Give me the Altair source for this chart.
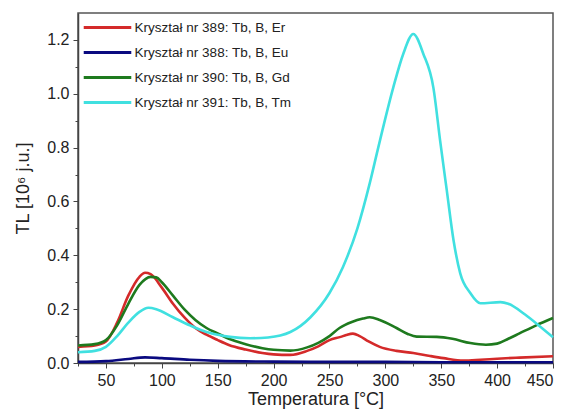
import altair as alt
import pandas as pd

series_names = [
    "Kryształ nr 389: Tb, B, Er",
    "Kryształ nr 388: Tb, B, Eu",
    "Kryształ nr 390: Tb, B, Gd",
    "Kryształ nr 391: Tb, B, Tm",
]
series_colors = ["#d42a2a", "#0a0a80", "#1e7a1e", "#40e0e0"]

t_389 = [25, 40, 50, 60, 70, 80, 85, 90, 100, 110, 120, 130, 140, 150, 160, 175, 190, 200, 215, 230, 240, 250, 260, 265, 271, 277, 285, 295, 310, 325, 340, 352, 370, 385, 400, 420, 450]
v_389 = [0.06, 0.065, 0.08, 0.15, 0.25, 0.32, 0.335, 0.33, 0.28, 0.22, 0.17, 0.13, 0.105, 0.085, 0.067, 0.05, 0.037, 0.032, 0.03, 0.045, 0.062, 0.085, 0.097, 0.104, 0.109, 0.1, 0.08, 0.06, 0.045, 0.037, 0.026, 0.018, 0.009, 0.012, 0.016, 0.02, 0.025]

t_388 = [25, 50, 70, 85, 100, 125, 150, 200, 250, 300, 350, 400, 450]
v_388 = [0.004, 0.007, 0.015, 0.021, 0.018, 0.012, 0.008, 0.005, 0.004, 0.004, 0.003, 0.003, 0.003]

t_390 = [25, 40, 50, 60, 70, 80, 90, 95, 100, 110, 120, 130, 140, 150, 160, 175, 190, 200, 215, 230, 240, 250, 259, 270, 280, 286, 295, 310, 320, 328, 346, 360, 376, 390, 400, 410, 420, 435, 450]
v_390 = [0.065, 0.07, 0.085, 0.14, 0.22, 0.29, 0.32, 0.318, 0.3, 0.25, 0.2, 0.16, 0.13, 0.11, 0.09, 0.07, 0.055, 0.049, 0.046, 0.058, 0.075, 0.1, 0.13, 0.152, 0.165, 0.17, 0.16, 0.13, 0.108, 0.098, 0.097, 0.09, 0.074, 0.068, 0.072, 0.09, 0.11, 0.14, 0.167]

t_391 = [25, 40, 50, 60, 70, 80, 88, 95, 110, 125, 140, 150, 161, 179, 195, 206, 215, 233, 250, 262, 275, 286, 293, 307, 316, 325, 334, 343, 349, 355, 361, 367, 376, 385, 403, 410, 425, 440, 450]
v_391 = [0.04, 0.045, 0.06, 0.1, 0.15, 0.19, 0.205, 0.2, 0.17, 0.14, 0.115, 0.105, 0.097, 0.092, 0.095, 0.102, 0.115, 0.17, 0.26, 0.356, 0.5, 0.667, 0.789, 1.022, 1.148, 1.222, 1.148, 1.022, 0.826, 0.64, 0.456, 0.333, 0.26, 0.222, 0.226, 0.22, 0.18, 0.13, 0.096]

rows = []
for name, ts, vs in [
    (series_names[0], t_389, v_389),
    (series_names[1], t_388, v_388),
    (series_names[2], t_390, v_390),
    (series_names[3], t_391, v_391),
]:
    for t, v in zip(ts, vs):
        rows.append({"series": name, "T": t, "TL": v})
df = pd.DataFrame(rows)

x_ticks = [50, 100, 150, 200, 250, 300, 350, 400, 450]
x_minor = [25, 75, 125, 175, 225, 275, 325, 375, 425]
y_ticks = [0.0, 0.2, 0.4, 0.6, 0.8, 1.0, 1.2]
y_minor = [0.1, 0.3, 0.5, 0.7, 0.9, 1.1]

font = "Liberation Sans"
x_scale = alt.Scale(domain=[25, 450], nice=False, zero=False)
y_scale = alt.Scale(domain=[0, 1.3], nice=False)

lines = (
    alt.Chart(df)
    .mark_line(strokeWidth=2.6, interpolate="monotone")
    .encode(
        x=alt.X(
            "T:Q",
            scale=x_scale,
            axis=alt.Axis(
                title="Temperatura [°C]",
                values=x_ticks,
                grid=False,
                labelFontSize=16,
                titleFontSize=18,
                titleFontWeight="normal",
                labelColor="#222",
                titleColor="#222",
                domainColor="#444",
                tickColor="#444",
                domainWidth=1.5,
                tickSize=5,
                labelPadding=4,
                titlePadding=2,
            ),
        ),
        y=alt.Y(
            "TL:Q",
            scale=y_scale,
            axis=alt.Axis(
                title="TL [10⁶ j.u.]",
                values=y_ticks,
                format=".1f",
                grid=False,
                labelFontSize=16,
                titleFontSize=18,
                titleFontWeight="normal",
                labelColor="#222",
                titleColor="#222",
                domainColor="#444",
                tickColor="#444",
                domainWidth=1.5,
                tickSize=5,
                labelPadding=4,
                titlePadding=14,
            ),
        ),
        color=alt.Color(
            "series:N",
            scale=alt.Scale(domain=series_names, range=series_colors),
            legend=alt.Legend(
                title=None,
                orient="none",
                legendX=12,
                legendY=-3,
                symbolType="M-1.5,0H1.5",
                symbolSize=1005,
                symbolStrokeWidth=3,
                labelFontSize=13.5,
                labelColor="#222",
                labelFont=font,
                labelOffset=9.6,
                rowPadding=1,
                padding=0,
            ),
        ),
        order=alt.Order("series:N"),
    )
)

minor = (
    alt.Chart(df)
    .mark_point(opacity=0)
    .encode(
        x=alt.X(
            "T:Q",
            scale=x_scale,
            axis=alt.Axis(orient="bottom", values=x_minor, labels=False, title=None, grid=False, domain=False, tickSize=3, tickColor="#444"),
        ),
        y=alt.Y(
            "TL:Q",
            scale=y_scale,
            axis=alt.Axis(orient="left", values=y_minor, labels=False, title=None, grid=False, domain=False, tickSize=3, tickColor="#444"),
        ),
    )
)

chart = (
    alt.layer(lines, minor)
    .resolve_axis(x="independent", y="independent")
    .properties(width=475, height=350, padding={"left": 70, "top": 5, "right": 8, "bottom": 50}, autosize=alt.AutoSizeParams(type="none"))
    .configure(font=font)
    .configure_view(stroke="#555", strokeWidth=1.5)
)

chart.save("out.html", embed_options={"renderer": "svg", "actions": False})
